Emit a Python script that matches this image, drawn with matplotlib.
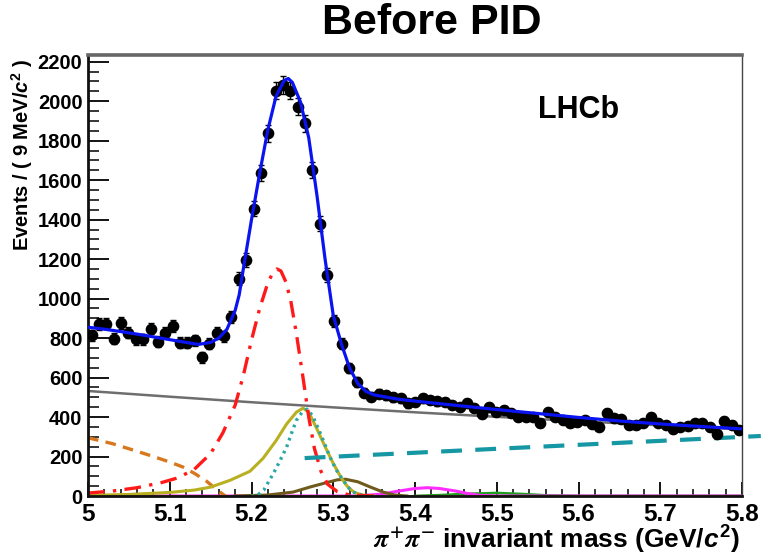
import numpy as np
import matplotlib
matplotlib.use("Agg")
import matplotlib.pyplot as plt
from matplotlib.ticker import MultipleLocator, FormatStrFormatter

plt.rcParams['font.family'] = ['Liberation Sans', 'DejaVu Sans']
plt.rcParams['font.weight'] = 'bold'
plt.rcParams['mathtext.fontset'] = 'custom'
plt.rcParams['mathtext.rm'] = 'Liberation Sans:bold'
plt.rcParams['mathtext.it'] = 'Liberation Sans:italic:bold'
plt.rcParams['mathtext.bf'] = 'Liberation Sans:bold'

# ----------------------------------------------------------
# data: 9 MeV bins, bin centres (GeV) and event counts
# ----------------------------------------------------------
mass = [5.0045, 5.0135, 5.0225, 5.0315, 5.0405, 5.0495, 5.0585, 5.0675, 5.0765, 5.0855,
        5.0945, 5.1035, 5.1125, 5.1215, 5.1305, 5.1395, 5.1485, 5.1575, 5.1665, 5.1755,
        5.1845, 5.1935, 5.2025, 5.2115, 5.2205, 5.2295, 5.2385, 5.2475, 5.2565, 5.2655,
        5.2745, 5.2835, 5.2925, 5.3015, 5.3105, 5.3195, 5.3285, 5.3375, 5.3465, 5.3555,
        5.3645, 5.3735, 5.3825, 5.3915, 5.4005, 5.4095, 5.4185, 5.4275, 5.4365, 5.4455,
        5.4545, 5.4635, 5.4725, 5.4815, 5.4905, 5.4995, 5.5085, 5.5175, 5.5265, 5.5355,
        5.5445, 5.5535, 5.5625, 5.5715, 5.5805, 5.5895, 5.5985, 5.6075, 5.6165, 5.6255,
        5.6345, 5.6435, 5.6525, 5.6615, 5.6705, 5.6795, 5.6885, 5.6975, 5.7065, 5.7155,
        5.7245, 5.7335, 5.7425, 5.7515, 5.7605, 5.7695, 5.7785, 5.7875, 5.7965]
events = [814, 870, 873, 797, 877, 828, 794, 793, 848, 781,
          828, 860, 776, 776, 789, 702, 772, 826, 808, 907,
          1101, 1194, 1455, 1635, 1838, 2054, 2080, 2054, 1972, 1889,
          1650, 1380, 1120, 887, 772, 646, 578, 523, 502, 519,
          510, 500, 494, 469, 477, 494, 486, 480, 477, 462,
          452, 470, 445, 415, 449, 427, 435, 421, 401, 401,
          400, 371, 427, 401, 384, 371, 376, 384, 365, 351,
          418, 393, 388, 359, 359, 371, 401, 371, 360, 337,
          351, 354, 368, 368, 350, 314, 381, 359, 334]

# ----------------------------------------------------------
# fit curves
# ----------------------------------------------------------
total_m = [5.0, 5.02, 5.04, 5.06, 5.08, 5.10, 5.12, 5.135, 5.15, 5.16, 5.17, 5.18, 5.185,
           5.19, 5.20, 5.21, 5.22, 5.23, 5.24, 5.245, 5.25, 5.26, 5.27, 5.28, 5.29, 5.30,
           5.31, 5.32, 5.33, 5.34, 5.35, 5.38, 5.42, 5.46, 5.50, 5.55, 5.60, 5.65, 5.70,
           5.75, 5.80]
total_v = [855, 845, 833, 820, 806, 792, 778, 768, 778, 800, 845, 940, 1020,
           1150, 1400, 1635, 1855, 2025, 2105, 2115, 2095, 1995, 1815, 1525, 1200, 915,
           770, 648, 570, 530, 512, 490, 472, 455, 438, 418, 398, 380, 365,
           352, 340]

comb_m = [5.0, 5.1, 5.2, 5.3, 5.4, 5.5, 5.6, 5.7, 5.8]
comb_v = [532, 503, 475, 449, 424, 401, 379, 358, 338]

part_m = [5.0, 5.03, 5.055, 5.08, 5.10, 5.116, 5.13, 5.145, 5.158, 5.168]
part_v = [295, 265, 233, 200, 172, 147, 115, 75, 30, 0]

kpi_m = [5.0, 5.03, 5.06, 5.09, 5.11, 5.13, 5.15, 5.165, 5.18, 5.19, 5.20, 5.21, 5.22,
         5.226, 5.231, 5.236, 5.242, 5.248, 5.255, 5.263, 5.27, 5.277, 5.285, 5.293,
         5.305, 5.32, 5.35]
kpi_v = [15, 25, 42, 68, 92, 135, 215, 320, 460, 610, 790, 950, 1080,
         1130, 1150, 1140, 1085, 990, 820, 600, 400, 240, 125, 60,
         22, 5, 0]

pipi_m = [5.0, 5.05, 5.10, 5.13, 5.15, 5.174, 5.198, 5.214, 5.23, 5.243, 5.255, 5.263,
          5.27, 5.28, 5.29, 5.30, 5.31, 5.317, 5.325, 5.335, 5.35]
pipi_v = [3, 8, 18, 30, 45, 80, 125, 190, 280, 365, 425, 445,
          425, 340, 250, 165, 90, 50, 20, 5, 0]

kk_m = [5.20, 5.207, 5.215, 5.227, 5.235, 5.243, 5.25, 5.255, 5.262, 5.268, 5.275,
        5.284, 5.29, 5.296, 5.304, 5.312, 5.318, 5.324, 5.335, 5.35]
kk_v = [0, 3, 30, 116, 180, 248, 330, 384, 425, 440, 405,
        319, 260, 197, 130, 81, 45, 20, 5, 0]

misid_m = [5.265, 5.823]
misid_v = [192, 304]

brown_m = [5.18, 5.22, 5.251, 5.272, 5.292, 5.305, 5.315, 5.33, 5.345, 5.361, 5.375, 5.39]
brown_v = [0, 5, 20, 46, 68, 82, 85, 72, 46, 20, 5, 0]

magenta_m = [5.0, 5.33, 5.36, 5.38, 5.40, 5.415, 5.43, 5.45, 5.465, 5.48, 5.50, 5.8]
magenta_v = [0, 0, 10, 25, 38, 42, 38, 25, 12, 3, 0, 0]

green_m = [5.40, 5.43, 5.46, 5.50, 5.53, 5.56, 5.60, 5.8]
green_v = [0, 4, 10, 15, 10, 3, 0, 0]

fig = plt.figure(figsize=(7.61, 5.56), dpi=100)
ax = fig.add_axes([88 / 761, 1 - 496 / 556, 654 / 761, 441 / 556])

# components
ax.plot(green_m, green_v, color='#22a022', lw=2.0, zorder=2)
ax.plot(magenta_m, magenta_v, color='#ff2cff', lw=2.2, zorder=2)
ax.plot([5.0, 5.8], [1, 1], color='#d0602a', lw=1.2, zorder=2)
ax.plot(brown_m, brown_v, color='#6e5a1c', lw=2.2, zorder=2)
ax.plot(part_m, part_v, color='#d8781e', lw=2.4, dashes=(3.2, 2.2), zorder=2)
ax.plot(comb_m, comb_v, color='#6e6e6e', lw=1.8, zorder=2)
ax.plot(pipi_m, pipi_v, color='#b8b020', lw=2.2, zorder=2)
ax.plot(kk_m, kk_v, color='#2aa6a6', lw=2.4, ls=(0, (0.8, 1.3)), zorder=2)
ax.plot(kpi_m, kpi_v, color='#ff1a1a', lw=2.4, ls=(0, (5, 2.5, 1, 2.5)), zorder=2)
ax.plot(misid_m, misid_v, color='#1597a4', lw=3.0, dashes=(5, 3.2), zorder=2,
        clip_on=False)

# data with Poisson errors
ax.errorbar(mass, events, yerr=np.sqrt(events), fmt='o', color='black', ms=7.4,
            elinewidth=1.0, capsize=2.2, capthick=1.0, zorder=3)

# total fit
ax.plot(total_m, total_v, color='#0a14f0', lw=2.3, zorder=4)

ax.set_xlim(5.0, 5.8)
ax.set_ylim(0, 2234)

ax.xaxis.set_major_locator(MultipleLocator(0.1))
ax.xaxis.set_minor_locator(MultipleLocator(0.02))
ax.yaxis.set_major_locator(MultipleLocator(200))
ax.yaxis.set_minor_locator(MultipleLocator(50))
ax.xaxis.set_major_formatter(FormatStrFormatter('%g'))
ax.yaxis.set_major_formatter(FormatStrFormatter('%g'))

ax.tick_params(axis='x', which='major', direction='in', length=10, width=1.3,
               labelsize=17.5, pad=5)
ax.tick_params(axis='x', which='minor', direction='in', length=5, width=1.1)
ax.tick_params(axis='y', which='major', direction='in', length=15, width=1.3,
               labelsize=14.5, pad=4)
ax.tick_params(axis='y', which='minor', direction='in', length=8, width=1.1)

for side in ['left', 'bottom']:
    ax.spines[side].set_linewidth(2.0)
    ax.spines[side].set_color('#111111')
ax.spines['top'].set_linewidth(2.6)
ax.spines['top'].set_color('#666666')
ax.spines['right'].set_linewidth(1.0)
ax.spines['right'].set_color('#444444')

# texts
fig.text(432 / 761, 1 - 23 / 556, 'Before PID', ha='center', va='center',
         fontsize=31, fontweight='bold')
fig.text(579 / 761, 1 - 110 / 556, 'LHCb', ha='center', va='center',
         fontsize=22, fontweight='bold')
fig.text(22 / 761, 1 - 155 / 556, r'Events / ( 9 MeV/$c^{2}$ )', rotation=90,
         ha='center', va='center', fontsize=14.5, fontweight='bold')

# x label: pi+pi- in a serif face, rest in bold sans, right aligned to the axis end
xl = fig.text(740 / 761, 1 - 540 / 556, r' invariant mass (GeV/$c^{2}$)',
              ha='right', va='center', fontsize=19, fontweight='bold')
fig.canvas.draw()
bb = xl.get_window_extent().transformed(fig.transFigure.inverted())
fig.text(bb.x0, 1 - 540 / 556, r'$\pi^{+}\pi^{-}$', ha='right', va='center',
         fontsize=19, math_fontfamily='stix')

fig.savefig('out.png', dpi=100)
